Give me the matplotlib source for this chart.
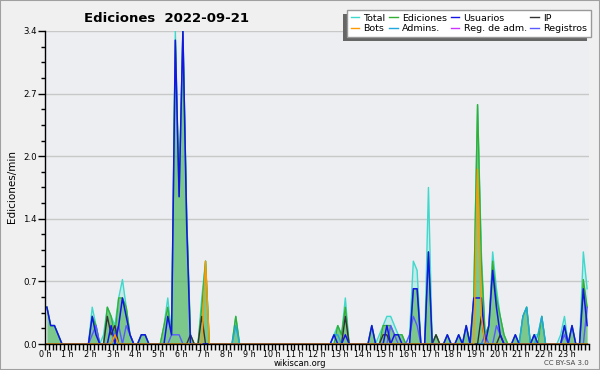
import numpy as np
import matplotlib
matplotlib.use("Agg")
import matplotlib.pyplot as plt
from matplotlib.lines import Line2D
from matplotlib.patches import Rectangle
from matplotlib.ticker import FixedLocator, MultipleLocator, AutoMinorLocator

# ediciones/min por tramo de 10 minutos (tramo 0..143), los tramos que faltan valen 0
total = {
    0: 0.4, 1: 0.2, 2: 0.2, 3: 0.1,
    12: 0.4, 13: 0.2,
    15: 0.1, 16: 0.4, 17: 0.3, 18: 0.2, 19: 0.5, 20: 0.7, 21: 0.4, 22: 0.1,
    25: 0.1, 26: 0.1,
    31: 0.2, 32: 0.5, 33: 0.1, 34: 3.4, 35: 1.6, 36: 3.4, 37: 1.4, 38: 0.1,
    41: 0.5, 42: 0.9,
    50: 0.3,
    76: 0.1, 77: 0.2, 78: 0.1, 79: 0.5,
    86: 0.2,
    88: 0.1, 89: 0.2, 90: 0.3, 91: 0.3, 92: 0.2, 93: 0.1, 94: 0.1,
    96: 0.1, 97: 0.9, 98: 0.8,
    101: 1.7, 103: 0.1, 106: 0.1, 109: 0.1, 111: 0.2,
    113: 0.5, 114: 2.6, 115: 1.0, 116: 0.1, 117: 0.2, 118: 1.0, 119: 0.6, 120: 0.3, 121: 0.1,
    124: 0.1, 126: 0.3, 127: 0.4, 129: 0.1, 130: 0.1, 131: 0.3,
    136: 0.1, 137: 0.3, 139: 0.2,
    142: 1.0, 143: 0.6,
}
ediciones = {
    0: 0.4, 1: 0.2, 2: 0.2, 3: 0.1,
    12: 0.3, 13: 0.2,
    16: 0.4, 17: 0.3, 18: 0.1, 19: 0.5, 20: 0.5, 21: 0.4, 22: 0.1,
    25: 0.1, 26: 0.1,
    31: 0.2, 32: 0.4, 33: 0.1, 34: 3.3, 35: 1.6, 36: 3.4, 37: 1.4, 38: 0.1,
    41: 0.4, 42: 0.9,
    50: 0.3,
    77: 0.2, 78: 0.1, 79: 0.4,
    86: 0.2,
    89: 0.2, 90: 0.2, 91: 0.2, 92: 0.1, 93: 0.1, 94: 0.1,
    97: 0.6, 98: 0.6,
    101: 1.0, 103: 0.1, 106: 0.1, 109: 0.1, 111: 0.2,
    113: 0.5, 114: 2.6, 115: 0.9, 116: 0.1, 117: 0.2, 118: 0.9, 119: 0.5, 120: 0.3, 121: 0.1,
    124: 0.1, 126: 0.3, 127: 0.4, 129: 0.1, 131: 0.3,
    137: 0.2, 139: 0.2,
    142: 0.7, 143: 0.4,
}
usuarios = {
    0: 0.4, 1: 0.2, 2: 0.2, 3: 0.1,
    12: 0.3, 13: 0.1,
    17: 0.2, 19: 0.2, 20: 0.5, 21: 0.3, 22: 0.1,
    25: 0.1, 26: 0.1,
    32: 0.3, 33: 0.1, 34: 3.3, 35: 1.6, 36: 3.4, 37: 1.3,
    76: 0.1, 79: 0.1,
    86: 0.2,
    90: 0.2, 92: 0.1, 93: 0.1,
    97: 0.6, 98: 0.6,
    101: 1.0, 106: 0.1, 109: 0.1, 111: 0.2,
    113: 0.5, 114: 0.5, 115: 0.5,
    117: 0.2, 118: 0.8, 119: 0.4, 120: 0.1,
    124: 0.1, 129: 0.1,
    137: 0.2, 139: 0.2,
    142: 0.6, 143: 0.2,
}
ip = {16: 0.3, 17: 0.1, 18: 0.2, 38: 0.1, 41: 0.3, 79: 0.3, 89: 0.1, 90: 0.1,
      103: 0.1, 115: 0.3, 120: 0.1}
bots = {18: 0.1, 42: 0.9, 114: 1.9, 115: 0.3}
admins = {50: 0.2, 76: 0.1, 77: 0.1, 126: 0.3, 127: 0.4, 130: 0.1, 131: 0.3}
reg_adm = {}
registros = {12: 0.1, 13: 0.2, 18: 0.1, 19: 0.2, 21: 0.2, 22: 0.1, 33: 0.1, 34: 0.1,
             35: 0.1, 91: 0.2, 92: 0.1, 96: 0.1, 97: 0.3, 98: 0.2, 116: 0.1, 119: 0.2,
             120: 0.1, 137: 0.1, 143: 0.4}

hour_labels = [f"{h} h" for h in range(24)]
y_ticks = [0, 0.68, 1.36, 2.04, 2.72, 3.4]
y_labels = ["0.0", "0.7", "1.4", "2.0", "2.7", "3.4"]

N_SLOTS = 144


def to_array(points):
    arr = np.zeros(N_SLOTS)
    for slot, v in points.items():
        arr[slot] = v
    return arr


t = (np.arange(N_SLOTS) + 0.5) / 6.0  # centro del tramo, en horas

fig = plt.figure(figsize=(6, 3.7), dpi=100, facecolor="#f0f0f0")
ax = fig.add_axes([45 / 600, 26 / 370, 544 / 600, 313 / 370])
ax.set_facecolor("#eceef1")
ax.set_xlim(0, 24)
ax.set_ylim(0, 3.4)

# rellenos
ax.fill_between(t, to_array(total), color="#40e0d0", alpha=0.22, lw=0, zorder=1)
ax.fill_between(t, to_array(ediciones), color="#4cb04c", alpha=0.6, lw=0, zorder=1.2)

series = [
    ("Total", total, "#3fd8cc", 1.0),
    ("Ediciones", ediciones, "#33b033", 1.0),
    ("Reg. de adm.", reg_adm, "#cc33ff", 1.0),
    ("Registros", registros, "#5a5aff", 1.0),
    ("Admins.", admins, "#1fa8e0", 1.0),
    ("IP", ip, "#333333", 1.0),
    ("Usuarios", usuarios, "#1414e6", 1.1),
    ("Bots", bots, "#ff9900", 1.0),
]
for label, pts, color, lw in series:
    ax.plot(t, to_array(pts), color=color, lw=lw, zorder=2)

# ejes
for side in ("top", "right"):
    ax.spines[side].set_visible(False)
for side in ("left", "bottom"):
    ax.spines[side].set_color("black")
    ax.spines[side].set_linewidth(1)
    ax.spines[side].set_zorder(5)

ax.xaxis.set_major_locator(FixedLocator(range(24)))
ax.xaxis.set_minor_locator(MultipleLocator(1 / 6))
ax.set_xticklabels(hour_labels)
ax.yaxis.set_major_locator(FixedLocator(y_ticks))
ax.yaxis.set_minor_locator(AutoMinorLocator(4))
ax.set_yticklabels(y_labels)
ax.tick_params(axis="x", which="both", direction="out", length=4, width=1,
               labelsize=5.8, pad=0.3)
ax.tick_params(axis="y", which="major", direction="out", length=5, width=1,
               labelsize=6.2, pad=1)
ax.tick_params(axis="y", which="minor", direction="out", length=3, width=1)
ax.yaxis.grid(True, color="#c8c8c8", lw=1)
ax.set_axisbelow(True)

# textos
fig.text(167 / 600, 1 - 18 / 370, "Ediciones  2022-09-21", ha="center", va="center",
         fontsize=9.5, fontweight="bold")
fig.text(12 / 600, 1 - 187 / 370, "Ediciones/min", rotation=90, ha="center",
         va="center", fontsize=7.5)
fig.text(300 / 600, 1 - 364 / 370, "wikiscan.org", ha="center", va="center",
         fontsize=6)
fig.text(589 / 600, 1 - 363 / 370, "CC BY-SA 3.0", ha="right", va="center",
         fontsize=5, color="#444444")

# leyenda (orden por columnas)
colors = {label: color for label, _, color, _ in series}
order = ["Total", "Bots", "Ediciones", "Admins.", "Usuarios", "Reg. de adm.", "IP", "Registros"]
handles = [Line2D([], [], color=colors[k], lw=1) for k in order]
leg = fig.legend(handles, order, ncol=4, loc="upper right",
                 bbox_to_anchor=(591 / 600, 1 - 10 / 370), fontsize=6.8,
                 handlelength=0.9, handletextpad=0.45, columnspacing=0.4,
                 labelspacing=0.15, borderpad=0.4, borderaxespad=0, fancybox=False,
                 edgecolor="#999999", framealpha=1)
leg.set_zorder(10)

fig.canvas.draw()
bb = leg.get_window_extent().transformed(fig.transFigure.inverted())
fig.patches.append(Rectangle((bb.x0 - 4 / 600, bb.y0 - 4 / 370), bb.width, bb.height,
                             transform=fig.transFigure, facecolor="#666666",
                             edgecolor="none", zorder=9))
fig.patches.append(Rectangle((0, 0), 1, 1, transform=fig.transFigure, fill=False,
                             edgecolor="#a0a0a0", lw=1.5, zorder=20))

fig.savefig("out.png", dpi=100, facecolor=fig.get_facecolor())
